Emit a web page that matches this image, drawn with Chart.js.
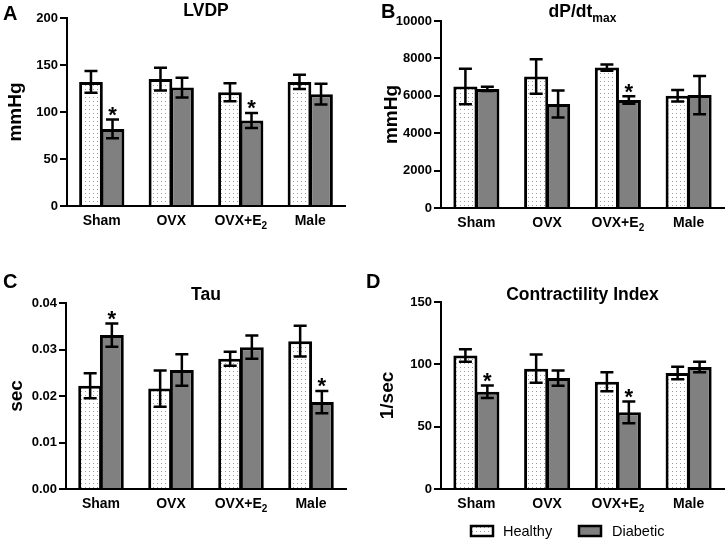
<!DOCTYPE html>
<html>
<head>
<meta charset="utf-8">
<script src="https://cdn.jsdelivr.net/npm/chart.js@4/dist/chart.umd.min.js"></script>
<style>
  html, body { margin: 0; padding: 0; background: #fff; }
  #wrap { position: relative; width: 726px; height: 542px; }
  #wrap canvas { position: absolute; }
</style>
</head>
<body>
<div id="wrap">
  <canvas id="cA" width="363" height="270" style="left:0;top:0"></canvas>
  <canvas id="cB" width="363" height="270" style="left:363px;top:0"></canvas>
  <canvas id="cC" width="363" height="272" style="left:0;top:270px"></canvas>
  <canvas id="cD" width="363" height="272" style="left:363px;top:270px"></canvas>
</div>
<script>
// categories and series
const groups = ['Sham', 'OVX', 'OVX+E2', 'Male'];
const seriesNames = ['Healthy', 'Diabetic'];

// A - LVDP (mmHg)
const lvdpHealthy = [132, 135, 121, 132];
const lvdpHealthyErr = [11.5, 12, 9.5, 7.5];
const lvdpDiabetic = [82, 126, 91, 119];
const lvdpDiabeticErr = [10, 10.5, 8, 11];
const lvdpStar = [true, false, true, false];
const lvdpTicks = [0, 50, 100, 150, 200];

// B - dP/dt max (mmHg)
const dpdtHealthy = [6500, 7030, 7510, 6000];
const dpdtHealthyErr = [950, 920, 170, 310];
const dpdtDiabetic = [6370, 5560, 5780, 6040];
const dpdtDiabeticErr = [110, 720, 200, 1020];
const dpdtStar = [false, false, true, false];
const dpdtTicks = [0, 2000, 4000, 6000, 8000, 10000];

// C - Tau (sec)
const tauHealthy = [0.0222, 0.0216, 0.0280, 0.0318];
const tauHealthyErr = [0.0027, 0.0039, 0.0015, 0.0033];
const tauDiabetic = [0.0331, 0.0256, 0.0305, 0.0187];
const tauDiabeticErr = [0.0025, 0.0034, 0.0025, 0.0024];
const tauStar = [true, false, false, true];
const tauTicks = [0, 0.01, 0.02, 0.03, 0.04];

// D - Contractility index (1/sec)
const ciHealthy = [107, 96.5, 86, 93];
const ciHealthyErr = [5, 11.3, 7.6, 5];
const ciDiabetic = [78, 89, 61.5, 97.8];
const ciDiabeticErr = [5.1, 6.1, 8.7, 4.2];
const ciStar = [true, false, true, false];
const ciTicks = [0, 50, 100, 150];

const FONT = '"Liberation Sans", Arial, Helvetica, sans-serif';
const GRAY = '#808080';

function dotPattern(ctx) {
  const tile = document.createElement('canvas');
  tile.width = 4; tile.height = 4;
  const g = tile.getContext('2d');
  g.fillStyle = '#fff';
  g.fillRect(0, 0, 4, 4);
  g.fillStyle = '#9a9a9a';
  g.fillRect(1, 1, 1, 1);
  return ctx.createPattern(tile, 'repeat');
}

// text with an optional subscript part
function subText(c, main, sub, size, subSize, cx, y, bold) {
  const w = bold ? 'bold ' : '';
  c.font = w + size + 'px ' + FONT;
  const w1 = c.measureText(main).width;
  c.font = w + subSize + 'px ' + FONT;
  const w2 = sub ? c.measureText(sub).width : 0;
  const x0 = cx - (w1 + w2) / 2;
  c.font = w + size + 'px ' + FONT;
  c.fillText(main, x0, y);
  if (sub) {
    c.font = w + subSize + 'px ' + FONT;
    c.fillText(sub, x0 + w1, y + size * 0.28);
  }
}

function makeChart(p) {
  const canvas = document.getElementById(p.id);
  const ctx = canvas.getContext('2d');
  const H = canvas.height, W = canvas.width;
  const pattern = dotPattern(ctx);

  const extras = {
    id: 'extras',
    afterDatasetsDraw(chart) {
      const c = chart.ctx, ys = chart.scales.y;
      c.save();
      c.strokeStyle = '#000';
      c.fillStyle = '#000';
      c.lineWidth = 2.5;
      chart.data.datasets.forEach((ds, di) => {
        chart.getDatasetMeta(di).data.forEach((bar, i) => {
          const v = ds.data[i], e = ds.errors[i];
          const yt = ys.getPixelForValue(v + e), yb = ys.getPixelForValue(v - e);
          const x = bar.x, hw = 6.5;
          c.beginPath();
          c.moveTo(x, yt); c.lineTo(x, yb);
          c.moveTo(x - hw, yt); c.lineTo(x + hw, yt);
          c.moveTo(x - hw, yb); c.lineTo(x + hw, yb);
          c.stroke();
          if (ds.stars && ds.stars[i]) {
            c.font = 'bold 22px ' + FONT;
            c.textAlign = 'center';
            c.textBaseline = 'alphabetic';
            c.fillText('*', x, yt - 10 + 12.5);
          }
        });
      });
      c.restore();
    },
    afterDraw(chart) {
      const c = chart.ctx, xs = chart.scales.x, area = chart.chartArea;
      c.save();
      c.fillStyle = '#000';
      c.textAlign = 'left';
      c.textBaseline = 'alphabetic';
      // category labels (E2 with subscript)
      groups.forEach((g, i) => {
        const m = g.match(/^(.*E)(\d)$/);
        subText(c, m ? m[1] : g, m ? m[2] : '', 14, 10, xs.getPixelForValue(i), area.bottom + 19, true);
      });
      // panel title
      subText(c, p.title, p.titleSub, 17.5, 12, (area.left + area.right) / 2, p.titleY, true);
      // panel letter
      c.font = 'bold 20px ' + FONT;
      c.fillText(p.letter, p.letterX, p.letterY);
      // legend
      if (p.legend) {
        const items = [[108, 140, pattern], [216, 249, GRAY]];
        items.forEach((it, k) => {
          c.fillStyle = it[2];
          c.fillRect(it[0], 256, 22, 10);
          c.strokeStyle = '#000';
          c.lineWidth = 2.5;
          c.strokeRect(it[0], 256, 22, 10);
          c.fillStyle = '#000';
          c.font = '14.5px ' + FONT;
          c.textBaseline = 'middle';
          c.fillText(seriesNames[k], it[1], 262);
        });
      }
      c.restore();
    }
  };

  return new Chart(ctx, {
    type: 'bar',
    data: {
      labels: groups,
      datasets: [
        {
          label: seriesNames[0],
          data: p.healthy,
          errors: p.healthyErr,
          backgroundColor: pattern,
          borderColor: '#000',
          borderWidth: 3,
          borderSkipped: 'start',
          categoryPercentage: 0.62,
          barPercentage: 1.1
        },
        {
          label: seriesNames[1],
          data: p.diabetic,
          errors: p.diabeticErr,
          stars: p.stars,
          backgroundColor: GRAY,
          borderColor: '#000',
          borderWidth: 3,
          borderSkipped: 'start',
          categoryPercentage: 0.62,
          barPercentage: 1.1
        }
      ]
    },
    options: {
      responsive: false,
      animation: false,
      layout: { padding: { left: 0, top: p.area.top, right: W - p.area.right, bottom: 0 } },
      plugins: {
        legend: { display: false },
        tooltip: { enabled: false }
      },
      scales: {
        x: {
          offset: true,
          grid: { display: false },
          border: { display: true, color: '#000', width: 2 },
          ticks: { display: false },
          afterFit: s => { s.height = H - p.area.bottom; }
        },
        y: {
          min: p.ticks[0],
          max: p.ticks[p.ticks.length - 1],
          ticks: {
            stepSize: p.ticks[1] - p.ticks[0],
            color: '#000',
            padding: 2,
            font: { family: FONT, size: 13, weight: 'bold' },
            callback: p.fmt
          },
          grid: { drawOnChartArea: false, drawTicks: true, tickLength: 7, color: '#000', lineWidth: 2 },
          border: { display: true, color: '#000', width: 2 },
          title: {
            display: true,
            text: p.unit,
            color: '#000',
            font: { family: FONT, size: 19, weight: 'bold' },
            padding: { top: p.unitPad, bottom: 0 }
          },
          afterFit: s => { s.width = p.area.left; }
        }
      }
    },
    plugins: [extras]
  });
}

makeChart({
  id: 'cA', letter: 'A', letterX: 3, letterY: 20, title: 'LVDP', titleSub: '', titleY: 16,
  unit: 'mmHg', unitPad: 4,
  healthy: lvdpHealthy, healthyErr: lvdpHealthyErr, diabetic: lvdpDiabetic, diabeticErr: lvdpDiabeticErr,
  stars: lvdpStar, ticks: lvdpTicks, fmt: v => String(v),
  area: { left: 67, right: 345, top: 18, bottom: 206 }
});

makeChart({
  id: 'cB', letter: 'B', letterX: 18, letterY: 18, title: 'dP/dt', titleSub: 'max', titleY: 17,
  unit: 'mmHg', unitPad: 17,
  healthy: dpdtHealthy, healthyErr: dpdtHealthyErr, diabetic: dpdtDiabetic, diabeticErr: dpdtDiabeticErr,
  stars: dpdtStar, ticks: dpdtTicks, fmt: v => String(v),
  area: { left: 78, right: 361, top: 21, bottom: 208 }
});

makeChart({
  id: 'cC', letter: 'C', letterX: 3, letterY: 18, title: 'Tau', titleSub: '', titleY: 30,
  unit: 'sec', unitPad: 5,
  healthy: tauHealthy, healthyErr: tauHealthyErr, diabetic: tauDiabetic, diabeticErr: tauDiabeticErr,
  stars: tauStar, ticks: tauTicks, fmt: v => Number(v).toFixed(2),
  area: { left: 66, right: 346, top: 33, bottom: 219 }
});

makeChart({
  id: 'cD', letter: 'D', letterX: 3, letterY: 18, title: 'Contractility Index', titleSub: '', titleY: 30,
  unit: '1/sec', unitPad: 13, legend: true,
  healthy: ciHealthy, healthyErr: ciHealthyErr, diabetic: ciDiabetic, diabeticErr: ciDiabeticErr,
  stars: ciStar, ticks: ciTicks, fmt: v => String(v),
  area: { left: 78, right: 361, top: 32, bottom: 219 }
});
</script>
</body>
</html>
